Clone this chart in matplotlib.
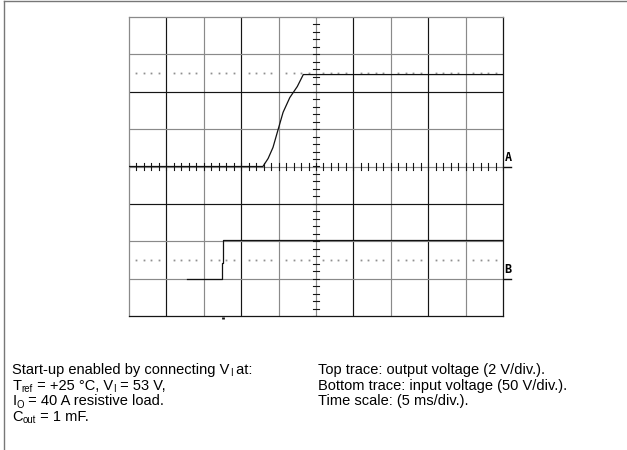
import matplotlib
matplotlib.use('Agg')
import matplotlib.pyplot as plt
from matplotlib.lines import Line2D
import numpy as np

plt.rcParams['font.family'] = ['Liberation Sans', 'DejaVu Sans']

# ---------------- data ----------------
ms_per_div = 5          # time scale
vout_per_div = 2        # top trace scale (V/div)
vin_per_div = 50        # bottom trace scale (V/div)
vout_ground_div = 0     # ground marker A
vin_ground_div = -3     # ground marker B
n_xdiv = 10
n_ydiv = 8

out_time_ms = [0, 17.9, 18.6, 19.25, 19.9, 20.6, 21.5, 22.5, 23.3, 50]
out_volt = [0, 0, 0.43, 1.02, 1.93, 2.9, 3.69, 4.28, 4.92, 4.92]

in_time_ms = [7.75, 12.43, 12.43, 12.57, 12.57, 50]
in_volt = [0, 0, 21.4, 21.4, 52, 52]

trigger_ms = 12.5
ref_levels_div = [2.5, -2.5]

# caption lines: list of (text, is_subscript) segments
left_lines = [
    [("Start-up enabled by connecting V", False), ("I", True), (" at:", False)],
    [("T", False), ("ref", True), (" = +25 °C, V", False), ("I", True), (" = 53 V,", False)],
    [("I", False), ("O", True), (" = 40 A resistive load.", False)],
    [("C", False), ("out", True), (" = 1 mF.", False)],
]
right_lines = [
    [("Top trace: output voltage (2 V/div.).", False)],
    [("Bottom trace: input voltage (50 V/div.).", False)],
    [("Time scale: (5 ms/div.).", False)],
]

# ---------------- figure ----------------
W, H = 627, 450
fig = plt.figure(figsize=(W / 100, H / 100), dpi=100)

# outer border (top and left)
fig.add_artist(Line2D([4 / W, 4 / W], [0, 1 - 0.5 / H], transform=fig.transFigure,
                      color='#777777', lw=1.0))
fig.add_artist(Line2D([4 / W, 1], [1 - 0.5 / H, 1 - 0.5 / H], transform=fig.transFigure,
                      color='#777777', lw=1.0))

ax_l, ax_t, ax_r, ax_b = 129, 17, 503, 316
ax = fig.add_axes([ax_l / W, 1 - ax_b / H, (ax_r - ax_l) / W, (ax_b - ax_t) / H])
ax.set_xlim(0, n_xdiv)
ax.set_ylim(-n_ydiv / 2, n_ydiv / 2)
ax.set_xticks([])
ax.set_yticks([])

black, gray = '#151515', '#8a8a8a'
vcol = [gray, black, gray, black, gray, gray, black, gray, black, gray, black]
hcol = [black, gray, gray, black, gray, gray, black, gray, gray]  # from bottom
for i in range(1, n_xdiv):
    ax.axvline(i, color=vcol[i], lw=0.85, zorder=1)
for j in range(1, n_ydiv):
    ax.axhline(-n_ydiv / 2 + j, color=hcol[j], lw=0.85, zorder=1)
ax.spines['left'].set_color(gray)
ax.spines['top'].set_color(gray)
ax.spines['right'].set_color(black)
ax.spines['bottom'].set_color(black)
for s in ax.spines.values():
    s.set_linewidth(0.9)

# center axis minor ticks
tk = 0.09
minor_x = np.arange(0, n_xdiv + 0.001, 0.2)
for xv in minor_x:
    ax.plot([xv, xv], [-tk, tk], color=black, lw=0.8, zorder=2)
minor_y = np.arange(-n_ydiv / 2, n_ydiv / 2 + 0.001, 0.2)
for yv in minor_y:
    ax.plot([n_xdiv / 2 - tk, n_xdiv / 2 + tk], [yv, yv], color=black, lw=0.8, zorder=2)

# dotted reference levels
dots_x = [x for x in minor_x if abs(x - round(x)) > 0.01]
for lv in ref_levels_div:
    ax.plot(dots_x, [lv] * len(dots_x), ls='none', marker='s', ms=1.3,
            mec='none', mfc='#909090', zorder=2)

# traces
ox = np.array(out_time_ms) / ms_per_div
oy = np.array(out_volt) / vout_per_div + vout_ground_div
ax.plot(ox, oy, color='#111111', lw=0.9, zorder=3)
ix = np.array(in_time_ms) / ms_per_div
iy = np.array(in_volt) / vin_per_div + vin_ground_div
ax.plot(ix, iy, color='#111111', lw=0.9, zorder=3)

# trigger marker below the screen
ax.plot([trigger_ms / ms_per_div] * 2, [-n_ydiv / 2 - 0.03, -n_ydiv / 2 - 0.08],
        color='#111111', lw=2.0, clip_on=False, solid_capstyle='butt')

# ground markers A and B
for lab, g in (('A', vout_ground_div), ('B', vin_ground_div)):
    ax.plot([n_xdiv + 0.02, n_xdiv + 0.22], [g, g], color='#111111', lw=1.0, clip_on=False)
    ax.text(n_xdiv + 0.04, g + 0.08, lab, fontsize=8.5, fontweight='bold',
            family='DejaVu Sans Mono', ha='left', va='bottom', clip_on=False)

# caption text, built from segments so subscripts sit below the baseline
fs = 10.5
renderer = fig.canvas.get_renderer()


def draw_line(x0, y0, parts):
    x = x0
    for seg, sub in parts:
        size = fs * 0.66 if sub else fs
        yy = y0 + (2.3 if sub else 0.0)
        t = fig.text(x / W, 1 - yy / H, seg, fontsize=size, ha='left', va='baseline')
        x += t.get_window_extent(renderer).width


for k, parts in enumerate(left_lines):
    draw_line(12.5, 374 + 15.6 * k, parts)
for k, parts in enumerate(right_lines):
    draw_line(318, 374 + 15.6 * k, parts)

fig.savefig('out.png', dpi=100)
